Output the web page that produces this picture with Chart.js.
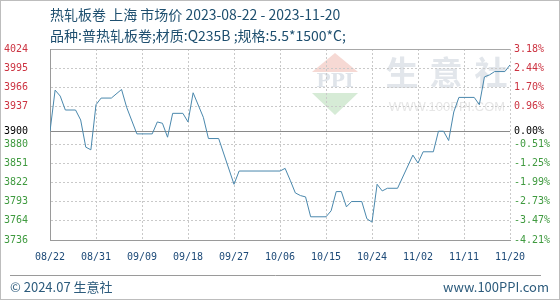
<!DOCTYPE html>
<html>
<head>
<meta charset="utf-8">
<script src="https://cdn.jsdelivr.net/npm/chart.js@4.4.0/dist/chart.umd.min.js"></script>
<style>
  html, body { margin: 0; padding: 0; background: #fff; }
</style>
</head>
<body>
<canvas id="priceChart" width="560" height="300"></canvas>
<script>
// x axis labels, one every 9 days from 2023-08-22
const dateLabels = ["08/22", "08/31", "09/09", "09/18", "09/27", "10/06", "10/15", "10/24", "11/02", "11/11", "11/20"];
const labelDays = [0, 9, 18, 27, 36, 45, 54, 63, 72, 81, 90];

// price line, day offset from 08/22 and price (yuan/ton)
const pointDays = [0, 1, 2, 3, 5, 6, 7, 8, 9, 10, 12, 14, 15, 17, 20, 21, 22, 23, 24, 26,
  27, 28, 30, 31, 33, 36, 37, 45, 46, 47, 48, 49, 50, 51, 54, 55, 56, 57, 58, 59,
  61, 62, 63, 64, 65, 66, 68, 71, 72, 73, 75, 76, 77, 78, 79, 80, 83, 84, 85, 86,
  87, 89, 90];
const prices = [3900, 3962, 3953, 3932, 3932, 3917, 3876, 3872, 3940, 3950, 3950, 3963, 3936, 3896, 3896, 3914, 3912, 3891, 3927, 3927,
  3914, 3958, 3921, 3889, 3889, 3820, 3840, 3840, 3844, 3826, 3807, 3803, 3801, 3771, 3771, 3780, 3809, 3809, 3786, 3794,
  3794, 3768, 3763, 3820, 3810, 3814, 3814, 3864, 3852, 3869, 3869, 3900, 3900, 3886, 3929, 3951, 3951, 3940, 3982, 3985,
  3990, 3990, 4000];

// y ticks: price on the left, change vs 3900 on the right
const basePrice = 3900;
const tickValues = [3736, 3764.8, 3793.6, 3822.4, 3851.2, 3880, 3900, 3937.6, 3966.4, 3995.2, 4024];
const priceLabels = ["3736", "3764", "3793", "3822", "3851", "3880", "3900", "3937", "3966", "3995", "4024"];
const pctLabels = ["-4.21%", "-3.47%", "-2.73%", "-1.99%", "-1.25%", "-0.51%", "0.00%", "0.96%", "1.70%", "2.44%", "3.18%"];

const RED = "#cc3341";
const GREEN = "#3f9a3f";
const tickFont = { family: "'DejaVu Sans Mono', monospace", size: 10 };

function tickColor(ctx) {
  const v = ctx.tick.value;
  if (v > basePrice) return RED;
  if (v < basePrice) return GREEN;
  return "#000";
}

const decorations = {
  id: "decorations",
  beforeDraw(chart) {
    const c = chart.ctx;
    c.save();
    c.fillStyle = "#fff";
    c.fillRect(0, 0, chart.width, chart.height);

    // watermark logo
    c.fillStyle = "#f6d9d4";
    c.beginPath();
    c.moveTo(312, 72); c.lineTo(335, 53); c.lineTo(358, 72);
    c.closePath(); c.fill();
    c.fillStyle = "#d6ebd6";
    c.beginPath();
    c.moveTo(312, 93); c.lineTo(358, 93); c.lineTo(335, 115);
    c.closePath(); c.fill();
    c.fillStyle = "#dfe4ea";
    c.font = "bold 19px 'DejaVu Serif', serif";
    c.textAlign = "center";
    c.textBaseline = "middle";
    c.fillText("PPI", 335, 82);

    // watermark text
    c.fillStyle = "#e2e6eb";
    c.font = "bold 33px 'Noto Sans CJK SC'";
    c.fillText("生", 402, 72);
    c.fillText("意", 446, 72);
    c.fillText("社", 491, 72);
    c.fillStyle = "#e6e6e6";
    c.font = "13px 'Liberation Sans', sans-serif";
    c.fillText("WWW.100PPI.COM", 447, 107);
    c.restore();
  },
  afterDraw(chart) {
    const c = chart.ctx;
    c.save();
    c.textBaseline = "middle";
    c.textAlign = "left";
    c.fillStyle = "#1e4f6f";
    c.font = "14px 'Noto Sans CJK SC'";
    c.fillText("热轧板卷 上海 市场价 2023-08-22 - 2023-11-20", 50, 15);
    c.fillText("品种:普热轧板卷;材质:Q235B ;规格:5.5*1500*C;", 50, 36);

    // footer
    c.strokeStyle = "#9a9a9a";
    c.lineWidth = 1;
    c.beginPath();
    c.moveTo(10, 275.5); c.lineTo(541, 275.5);
    c.stroke();
    c.fillStyle = "#2c5b7c";
    c.font = "13px 'Noto Sans CJK SC'";
    c.fillText("© 2024.07 生意社", 10, 287);
    c.textAlign = "right";
    c.fillText("www.100PPI.com", 549, 287);

    // frame
    c.strokeStyle = "#bdbdbd";
    c.strokeRect(0.5, 0.5, chart.width - 1, chart.height - 1);
    c.restore();
  }
};

new Chart(document.getElementById("priceChart"), {
  type: "line",
  data: {
    datasets: [{
      label: "热轧板卷",
      data: pointDays.map((d, i) => ({ x: d, y: prices[i] })),
      borderColor: "#4a88ad",
      borderWidth: 1,
      pointRadius: 0,
      tension: 0,
      fill: false
    }]
  },
  plugins: [decorations],
  options: {
    responsive: false,
    animation: false,
    events: [],
    layout: { padding: { top: 49, left: 0, right: 0, bottom: 0 } },
    plugins: { legend: { display: false }, tooltip: { enabled: false } },
    scales: {
      x: {
        type: "linear",
        min: 0,
        max: 90,
        afterBuildTicks: (scale) => { scale.ticks = labelDays.map(v => ({ value: v })); },
        afterFit: (scale) => { scale.height = 60; },
        ticks: {
          autoSkip: false,
          maxRotation: 0,
          padding: 11,
          color: "#1d4a78",
          font: tickFont,
          callback: (v, i) => dateLabels[i]
        },
        grid: { color: "#c9c9c9", drawTicks: false },
        border: {
          color: "#9a9a9a",
          dash: (ctx) => (ctx.type === "tick" && ctx.tick.value !== 0) ? [2, 2] : []
        }
      },
      y: {
        position: "left",
        min: 3736,
        max: 4024,
        afterBuildTicks: (scale) => { scale.ticks = tickValues.map(v => ({ value: v })); },
        afterFit: (scale) => { scale.width = 50; },
        ticks: {
          padding: 22,
          font: tickFont,
          color: tickColor,
          callback: (v, i) => priceLabels[i]
        },
        grid: {
          drawTicks: false,
          color: (ctx) => (ctx.tick && (ctx.tick.value === basePrice)) ? "#8a8a8a" :
            (ctx.tick && ctx.tick.value === 4024) ? "#a8a8a8" : "#c9c9c9"
        },
        border: {
          color: "#9a9a9a",
          dash: (ctx) => (ctx.type === "tick" && ctx.tick.value !== basePrice && ctx.tick.value !== 4024) ? [2, 2] : []
        }
      },
      y2: {
        position: "right",
        min: 3736,
        max: 4024,
        afterBuildTicks: (scale) => { scale.ticks = tickValues.map(v => ({ value: v })); },
        afterFit: (scale) => { scale.width = 50; },
        ticks: {
          padding: 4,
          font: tickFont,
          color: tickColor,
          callback: (v, i) => pctLabels[i]
        },
        grid: { display: false, drawTicks: false },
        border: { display: false }
      }
    }
  }
});
</script>
</body>
</html>
